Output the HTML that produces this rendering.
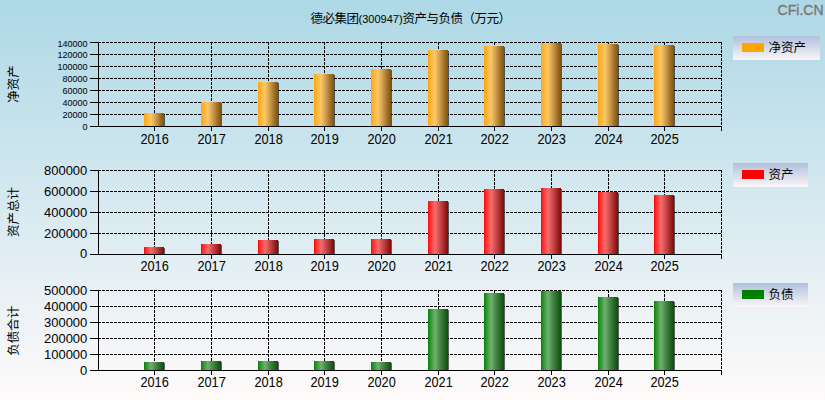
<!DOCTYPE html>
<html><head><meta charset="utf-8"><title>德必集团(300947)资产与负债</title>
<style>
html,body{margin:0;padding:0;width:825px;height:400px;overflow:hidden;}
body{background:linear-gradient(to bottom,#add8e6 0%,#fffafa 100%);}
svg{display:block;position:absolute;left:0;top:0;}
text{font-family:"Liberation Sans", Arial, sans-serif;fill:#000;}
.cjk{font-family:"Liberation Sans", "Noto Sans CJK SC", "WenQuanYi Zen Hei", sans-serif;}
</style></head><body>
<svg width="825" height="400" viewBox="0 0 825 400">
<defs>
<linearGradient id="gO" x1="0" x2="1" y1="0" y2="0">
<stop offset="0" stop-color="#ffa500"/><stop offset="0.08" stop-color="#ffae28"/><stop offset="0.35" stop-color="#fcc868"/><stop offset="0.55" stop-color="#d6a452"/><stop offset="0.85" stop-color="#9a6a22"/><stop offset="1" stop-color="#7e540c"/>
</linearGradient>
<linearGradient id="gR" x1="0" x2="1" y1="0" y2="0">
<stop offset="0" stop-color="#ff0000"/><stop offset="0.08" stop-color="#ff2424"/><stop offset="0.35" stop-color="#f86c6c"/><stop offset="0.55" stop-color="#d05050"/><stop offset="1" stop-color="#800808"/>
</linearGradient>
<linearGradient id="gG" x1="0" x2="1" y1="0" y2="0">
<stop offset="0" stop-color="#008000"/><stop offset="0.08" stop-color="#209020"/><stop offset="0.35" stop-color="#70b070"/><stop offset="0.55" stop-color="#4c8c4c"/><stop offset="1" stop-color="#0c4c0c"/>
</linearGradient>
<linearGradient id="gL" x1="0" x2="0" y1="0" y2="1">
<stop offset="0" stop-color="#b0c0dc"/><stop offset="1" stop-color="#fbf6f8"/>
</linearGradient>
</defs>
<text x="823.5" y="14.5" text-anchor="end" style="font-size:14px;fill:#7a7472;stroke:#7a7472;stroke-width:0.3px">CFi.CN</text>
<text class="cjk" x="310.5" y="22.5" style="font-size:12.5px;letter-spacing:-0.5px;text-spacing-trim:space-all">德必集团<tspan style="font-size:11px;letter-spacing:0">(300947)</tspan>资产与负债（万元）</text>

<g stroke="#000" stroke-width="1" stroke-dasharray="3 1" shape-rendering="crispEdges"><line x1="98" y1="114.5" x2="722" y2="114.5"/><line x1="98" y1="102.5" x2="722" y2="102.5"/><line x1="98" y1="90.5" x2="722" y2="90.5"/><line x1="98" y1="78.5" x2="722" y2="78.5"/><line x1="98" y1="66.5" x2="722" y2="66.5"/><line x1="98" y1="54.5" x2="722" y2="54.5"/><line x1="98" y1="42.5" x2="722" y2="42.5"/><line x1="154.5" y1="42" x2="154.5" y2="126"/><line x1="211.5" y1="42" x2="211.5" y2="126"/><line x1="268.5" y1="42" x2="268.5" y2="126"/><line x1="324.5" y1="42" x2="324.5" y2="126"/><line x1="381.5" y1="42" x2="381.5" y2="126"/><line x1="438.5" y1="42" x2="438.5" y2="126"/><line x1="494.5" y1="42" x2="494.5" y2="126"/><line x1="551.5" y1="42" x2="551.5" y2="126"/><line x1="608.5" y1="42" x2="608.5" y2="126"/><line x1="664.5" y1="42" x2="664.5" y2="126"/><line x1="721.5" y1="42" x2="721.5" y2="126"/></g>
<g shape-rendering="crispEdges"><rect x="164" y="114" width="1" height="12" fill="#000" opacity="0.6"/><rect x="144" y="113" width="20" height="13" fill="url(#gO)"/><rect x="221" y="103" width="1" height="23" fill="#000" opacity="0.6"/><rect x="201" y="102" width="20" height="24" fill="url(#gO)"/><rect x="278" y="83" width="1" height="43" fill="#000" opacity="0.6"/><rect x="258" y="82" width="20" height="44" fill="url(#gO)"/><rect x="334" y="75" width="1" height="51" fill="#000" opacity="0.6"/><rect x="314" y="74" width="20" height="52" fill="url(#gO)"/><rect x="391" y="70" width="1" height="56" fill="#000" opacity="0.6"/><rect x="371" y="69" width="20" height="57" fill="url(#gO)"/><rect x="448" y="51" width="1" height="75" fill="#000" opacity="0.6"/><rect x="428" y="50" width="20" height="76" fill="url(#gO)"/><rect x="504" y="47" width="1" height="79" fill="#000" opacity="0.6"/><rect x="484" y="46" width="20" height="80" fill="url(#gO)"/><rect x="561" y="44" width="1" height="82" fill="#000" opacity="0.6"/><rect x="541" y="43" width="20" height="83" fill="url(#gO)"/><rect x="618" y="45" width="1" height="81" fill="#000" opacity="0.6"/><rect x="598" y="44" width="20" height="82" fill="url(#gO)"/><rect x="674" y="46" width="1" height="80" fill="#000" opacity="0.6"/><rect x="654" y="45" width="20" height="81" fill="url(#gO)"/></g>
<g stroke="#000" stroke-width="1" shape-rendering="crispEdges"><line x1="98.5" y1="42" x2="98.5" y2="127"/><line x1="98" y1="126.5" x2="722" y2="126.5"/><line x1="90" y1="126.5" x2="98" y2="126.5"/><line x1="90" y1="114.5" x2="98" y2="114.5"/><line x1="90" y1="102.5" x2="98" y2="102.5"/><line x1="90" y1="90.5" x2="98" y2="90.5"/><line x1="90" y1="78.5" x2="98" y2="78.5"/><line x1="90" y1="66.5" x2="98" y2="66.5"/><line x1="90" y1="54.5" x2="98" y2="54.5"/><line x1="90" y1="42.5" x2="98" y2="42.5"/><line x1="154.5" y1="127" x2="154.5" y2="131"/><line x1="211.5" y1="127" x2="211.5" y2="131"/><line x1="268.5" y1="127" x2="268.5" y2="131"/><line x1="324.5" y1="127" x2="324.5" y2="131"/><line x1="381.5" y1="127" x2="381.5" y2="131"/><line x1="438.5" y1="127" x2="438.5" y2="131"/><line x1="494.5" y1="127" x2="494.5" y2="131"/><line x1="551.5" y1="127" x2="551.5" y2="131"/><line x1="608.5" y1="127" x2="608.5" y2="131"/><line x1="664.5" y1="127" x2="664.5" y2="131"/><line x1="721.5" y1="127" x2="721.5" y2="131"/></g>
<text transform="translate(87.5,129.55) scale(0.97,1.05)" text-anchor="end" style="font-size:9.3px">0</text>
<text transform="translate(87.5,117.55) scale(0.97,1.05)" text-anchor="end" style="font-size:9.3px">20000</text>
<text transform="translate(87.5,105.55) scale(0.97,1.05)" text-anchor="end" style="font-size:9.3px">40000</text>
<text transform="translate(87.5,93.55) scale(0.97,1.05)" text-anchor="end" style="font-size:9.3px">60000</text>
<text transform="translate(87.5,81.55) scale(0.97,1.05)" text-anchor="end" style="font-size:9.3px">80000</text>
<text transform="translate(87.5,69.55) scale(0.97,1.05)" text-anchor="end" style="font-size:9.3px">100000</text>
<text transform="translate(87.5,57.55) scale(0.97,1.05)" text-anchor="end" style="font-size:9.3px">120000</text>
<text transform="translate(87.5,46.65) scale(0.97,1.05)" text-anchor="end" style="font-size:9.3px">140000</text>
<text transform="translate(154.6,144.1) scale(0.98,1.08)" text-anchor="middle" style="font-size:13px">2016</text>
<text transform="translate(211.6,144.1) scale(0.98,1.08)" text-anchor="middle" style="font-size:13px">2017</text>
<text transform="translate(268.6,144.1) scale(0.98,1.08)" text-anchor="middle" style="font-size:13px">2018</text>
<text transform="translate(324.6,144.1) scale(0.98,1.08)" text-anchor="middle" style="font-size:13px">2019</text>
<text transform="translate(381.6,144.1) scale(0.98,1.08)" text-anchor="middle" style="font-size:13px">2020</text>
<text transform="translate(438.6,144.1) scale(0.98,1.08)" text-anchor="middle" style="font-size:13px">2021</text>
<text transform="translate(494.6,144.1) scale(0.98,1.08)" text-anchor="middle" style="font-size:13px">2022</text>
<text transform="translate(551.6,144.1) scale(0.98,1.08)" text-anchor="middle" style="font-size:13px">2023</text>
<text transform="translate(608.6,144.1) scale(0.98,1.08)" text-anchor="middle" style="font-size:13px">2024</text>
<text transform="translate(664.6,144.1) scale(0.98,1.08)" text-anchor="middle" style="font-size:13px">2025</text>
<text class="cjk" transform="translate(18,84.0) rotate(-90)" text-anchor="middle" style="font-size:12.5px">净资产</text>
<rect x="733" y="36" width="87" height="24" fill="url(#gL)"/>
<rect x="742" y="43" width="22" height="9" fill="#FFA500"/>
<text class="cjk" x="768.5" y="52" style="font-size:12.5px">净资产</text>
<g stroke="#000" stroke-width="1" stroke-dasharray="3 1" shape-rendering="crispEdges"><line x1="98" y1="233.5" x2="722" y2="233.5"/><line x1="98" y1="212.5" x2="722" y2="212.5"/><line x1="98" y1="191.5" x2="722" y2="191.5"/><line x1="98" y1="170.5" x2="722" y2="170.5"/><line x1="154.5" y1="170" x2="154.5" y2="254"/><line x1="211.5" y1="170" x2="211.5" y2="254"/><line x1="268.5" y1="170" x2="268.5" y2="254"/><line x1="324.5" y1="170" x2="324.5" y2="254"/><line x1="381.5" y1="170" x2="381.5" y2="254"/><line x1="438.5" y1="170" x2="438.5" y2="254"/><line x1="494.5" y1="170" x2="494.5" y2="254"/><line x1="551.5" y1="170" x2="551.5" y2="254"/><line x1="608.5" y1="170" x2="608.5" y2="254"/><line x1="664.5" y1="170" x2="664.5" y2="254"/><line x1="721.5" y1="170" x2="721.5" y2="254"/></g>
<g shape-rendering="crispEdges"><rect x="164" y="248" width="1" height="6" fill="#000" opacity="0.6"/><rect x="144" y="247" width="20" height="7" fill="url(#gR)"/><rect x="221" y="245" width="1" height="9" fill="#000" opacity="0.6"/><rect x="201" y="244" width="20" height="10" fill="url(#gR)"/><rect x="278" y="241" width="1" height="13" fill="#000" opacity="0.6"/><rect x="258" y="240" width="20" height="14" fill="url(#gR)"/><rect x="334" y="240" width="1" height="14" fill="#000" opacity="0.6"/><rect x="314" y="239" width="20" height="15" fill="url(#gR)"/><rect x="391" y="240" width="1" height="14" fill="#000" opacity="0.6"/><rect x="371" y="239" width="20" height="15" fill="url(#gR)"/><rect x="448" y="202" width="1" height="52" fill="#000" opacity="0.6"/><rect x="428" y="201" width="20" height="53" fill="url(#gR)"/><rect x="504" y="190" width="1" height="64" fill="#000" opacity="0.6"/><rect x="484" y="189" width="20" height="65" fill="url(#gR)"/><rect x="561" y="189" width="1" height="65" fill="#000" opacity="0.6"/><rect x="541" y="188" width="20" height="66" fill="url(#gR)"/><rect x="618" y="193" width="1" height="61" fill="#000" opacity="0.6"/><rect x="598" y="192" width="20" height="62" fill="url(#gR)"/><rect x="674" y="196" width="1" height="58" fill="#000" opacity="0.6"/><rect x="654" y="195" width="20" height="59" fill="url(#gR)"/></g>
<g stroke="#000" stroke-width="1" shape-rendering="crispEdges"><line x1="98.5" y1="170" x2="98.5" y2="255"/><line x1="98" y1="254.5" x2="722" y2="254.5"/><line x1="90" y1="254.5" x2="98" y2="254.5"/><line x1="90" y1="233.5" x2="98" y2="233.5"/><line x1="90" y1="212.5" x2="98" y2="212.5"/><line x1="90" y1="191.5" x2="98" y2="191.5"/><line x1="90" y1="170.5" x2="98" y2="170.5"/><line x1="154.5" y1="255" x2="154.5" y2="259"/><line x1="211.5" y1="255" x2="211.5" y2="259"/><line x1="268.5" y1="255" x2="268.5" y2="259"/><line x1="324.5" y1="255" x2="324.5" y2="259"/><line x1="381.5" y1="255" x2="381.5" y2="259"/><line x1="438.5" y1="255" x2="438.5" y2="259"/><line x1="494.5" y1="255" x2="494.5" y2="259"/><line x1="551.5" y1="255" x2="551.5" y2="259"/><line x1="608.5" y1="255" x2="608.5" y2="259"/><line x1="664.5" y1="255" x2="664.5" y2="259"/><line x1="721.5" y1="255" x2="721.5" y2="259"/></g>
<text transform="translate(87.3,257.84) scale(1.0,1.04)" text-anchor="end" style="font-size:13px">0</text>
<text transform="translate(87.3,237.94) scale(1.0,1.04)" text-anchor="end" style="font-size:13px">200000</text>
<text transform="translate(87.3,216.94) scale(1.0,1.04)" text-anchor="end" style="font-size:13px">400000</text>
<text transform="translate(87.3,195.94) scale(1.0,1.04)" text-anchor="end" style="font-size:13px">600000</text>
<text transform="translate(87.3,174.94) scale(1.0,1.04)" text-anchor="end" style="font-size:13px">800000</text>
<text transform="translate(154.6,271.3) scale(0.98,1.08)" text-anchor="middle" style="font-size:13px">2016</text>
<text transform="translate(211.6,271.3) scale(0.98,1.08)" text-anchor="middle" style="font-size:13px">2017</text>
<text transform="translate(268.6,271.3) scale(0.98,1.08)" text-anchor="middle" style="font-size:13px">2018</text>
<text transform="translate(324.6,271.3) scale(0.98,1.08)" text-anchor="middle" style="font-size:13px">2019</text>
<text transform="translate(381.6,271.3) scale(0.98,1.08)" text-anchor="middle" style="font-size:13px">2020</text>
<text transform="translate(438.6,271.3) scale(0.98,1.08)" text-anchor="middle" style="font-size:13px">2021</text>
<text transform="translate(494.6,271.3) scale(0.98,1.08)" text-anchor="middle" style="font-size:13px">2022</text>
<text transform="translate(551.6,271.3) scale(0.98,1.08)" text-anchor="middle" style="font-size:13px">2023</text>
<text transform="translate(608.6,271.3) scale(0.98,1.08)" text-anchor="middle" style="font-size:13px">2024</text>
<text transform="translate(664.6,271.3) scale(0.98,1.08)" text-anchor="middle" style="font-size:13px">2025</text>
<text class="cjk" transform="translate(18,212.0) rotate(-90)" text-anchor="middle" style="font-size:12.5px">资产总计</text>
<rect x="733" y="163" width="75" height="24" fill="url(#gL)"/>
<rect x="742" y="170" width="22" height="9" fill="#FF0000"/>
<text class="cjk" x="768.5" y="179" style="font-size:12.5px">资产</text>
<g stroke="#000" stroke-width="1" stroke-dasharray="3 1" shape-rendering="crispEdges"><line x1="98" y1="354.5" x2="722" y2="354.5"/><line x1="98" y1="338.5" x2="722" y2="338.5"/><line x1="98" y1="322.5" x2="722" y2="322.5"/><line x1="98" y1="306.5" x2="722" y2="306.5"/><line x1="98" y1="290.5" x2="722" y2="290.5"/><line x1="154.5" y1="290" x2="154.5" y2="370"/><line x1="211.5" y1="290" x2="211.5" y2="370"/><line x1="268.5" y1="290" x2="268.5" y2="370"/><line x1="324.5" y1="290" x2="324.5" y2="370"/><line x1="381.5" y1="290" x2="381.5" y2="370"/><line x1="438.5" y1="290" x2="438.5" y2="370"/><line x1="494.5" y1="290" x2="494.5" y2="370"/><line x1="551.5" y1="290" x2="551.5" y2="370"/><line x1="608.5" y1="290" x2="608.5" y2="370"/><line x1="664.5" y1="290" x2="664.5" y2="370"/><line x1="721.5" y1="290" x2="721.5" y2="370"/></g>
<g shape-rendering="crispEdges"><rect x="164" y="363" width="1" height="7" fill="#000" opacity="0.6"/><rect x="144" y="362" width="20" height="8" fill="url(#gG)"/><rect x="221" y="362" width="1" height="8" fill="#000" opacity="0.6"/><rect x="201" y="361" width="20" height="9" fill="url(#gG)"/><rect x="278" y="362" width="1" height="8" fill="#000" opacity="0.6"/><rect x="258" y="361" width="20" height="9" fill="url(#gG)"/><rect x="334" y="362" width="1" height="8" fill="#000" opacity="0.6"/><rect x="314" y="361" width="20" height="9" fill="url(#gG)"/><rect x="391" y="363" width="1" height="7" fill="#000" opacity="0.6"/><rect x="371" y="362" width="20" height="8" fill="url(#gG)"/><rect x="448" y="310" width="1" height="60" fill="#000" opacity="0.6"/><rect x="428" y="309" width="20" height="61" fill="url(#gG)"/><rect x="504" y="294" width="1" height="76" fill="#000" opacity="0.6"/><rect x="484" y="293" width="20" height="77" fill="url(#gG)"/><rect x="561" y="292" width="1" height="78" fill="#000" opacity="0.6"/><rect x="541" y="291" width="20" height="79" fill="url(#gG)"/><rect x="618" y="298" width="1" height="72" fill="#000" opacity="0.6"/><rect x="598" y="297" width="20" height="73" fill="url(#gG)"/><rect x="674" y="302" width="1" height="68" fill="#000" opacity="0.6"/><rect x="654" y="301" width="20" height="69" fill="url(#gG)"/></g>
<g stroke="#000" stroke-width="1" shape-rendering="crispEdges"><line x1="98.5" y1="290" x2="98.5" y2="371"/><line x1="98" y1="370.5" x2="722" y2="370.5"/><line x1="90" y1="370.5" x2="98" y2="370.5"/><line x1="90" y1="354.5" x2="98" y2="354.5"/><line x1="90" y1="338.5" x2="98" y2="338.5"/><line x1="90" y1="322.5" x2="98" y2="322.5"/><line x1="90" y1="306.5" x2="98" y2="306.5"/><line x1="90" y1="290.5" x2="98" y2="290.5"/><line x1="154.5" y1="371" x2="154.5" y2="375"/><line x1="211.5" y1="371" x2="211.5" y2="375"/><line x1="268.5" y1="371" x2="268.5" y2="375"/><line x1="324.5" y1="371" x2="324.5" y2="375"/><line x1="381.5" y1="371" x2="381.5" y2="375"/><line x1="438.5" y1="371" x2="438.5" y2="375"/><line x1="494.5" y1="371" x2="494.5" y2="375"/><line x1="551.5" y1="371" x2="551.5" y2="375"/><line x1="608.5" y1="371" x2="608.5" y2="375"/><line x1="664.5" y1="371" x2="664.5" y2="375"/><line x1="721.5" y1="371" x2="721.5" y2="375"/></g>
<text transform="translate(87.3,375.34) scale(1.0,1.04)" text-anchor="end" style="font-size:13px">0</text>
<text transform="translate(87.3,359.34) scale(1.0,1.04)" text-anchor="end" style="font-size:13px">100000</text>
<text transform="translate(87.3,343.34) scale(1.0,1.04)" text-anchor="end" style="font-size:13px">200000</text>
<text transform="translate(87.3,327.34) scale(1.0,1.04)" text-anchor="end" style="font-size:13px">300000</text>
<text transform="translate(87.3,311.34) scale(1.0,1.04)" text-anchor="end" style="font-size:13px">400000</text>
<text transform="translate(87.3,295.34) scale(1.0,1.04)" text-anchor="end" style="font-size:13px">500000</text>
<text transform="translate(154.6,387.3) scale(0.98,1.08)" text-anchor="middle" style="font-size:13px">2016</text>
<text transform="translate(211.6,387.3) scale(0.98,1.08)" text-anchor="middle" style="font-size:13px">2017</text>
<text transform="translate(268.6,387.3) scale(0.98,1.08)" text-anchor="middle" style="font-size:13px">2018</text>
<text transform="translate(324.6,387.3) scale(0.98,1.08)" text-anchor="middle" style="font-size:13px">2019</text>
<text transform="translate(381.6,387.3) scale(0.98,1.08)" text-anchor="middle" style="font-size:13px">2020</text>
<text transform="translate(438.6,387.3) scale(0.98,1.08)" text-anchor="middle" style="font-size:13px">2021</text>
<text transform="translate(494.6,387.3) scale(0.98,1.08)" text-anchor="middle" style="font-size:13px">2022</text>
<text transform="translate(551.6,387.3) scale(0.98,1.08)" text-anchor="middle" style="font-size:13px">2023</text>
<text transform="translate(608.6,387.3) scale(0.98,1.08)" text-anchor="middle" style="font-size:13px">2024</text>
<text transform="translate(664.6,387.3) scale(0.98,1.08)" text-anchor="middle" style="font-size:13px">2025</text>
<text class="cjk" transform="translate(18,330.8) rotate(-90)" text-anchor="middle" style="font-size:12.5px">负债合计</text>
<rect x="733" y="283" width="75" height="24" fill="url(#gL)"/>
<rect x="742" y="290" width="22" height="9" fill="#008000"/>
<text class="cjk" x="768.5" y="299" style="font-size:12.5px">负债</text>
</svg>
</body></html>
